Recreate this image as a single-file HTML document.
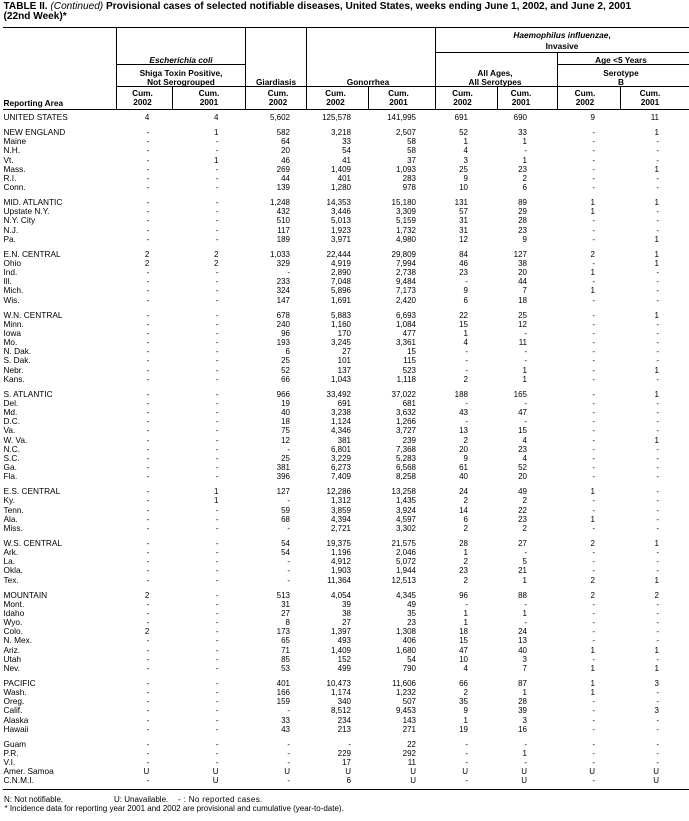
<!DOCTYPE html>
<html><head><meta charset="utf-8">
<style>
html,body{margin:0;padding:0;background:#fff;}
body{width:689px;height:821px;position:relative;overflow:hidden;font-family:"Liberation Sans",Arial,Helvetica,sans-serif;color:#000;}
.t{position:absolute;left:3.5px;top:2.2px;font-size:10.1px;font-weight:bold;line-height:10px;white-space:nowrap;}
.t i{font-weight:normal;}
.l{position:absolute;background:#000;}
.h{position:absolute;width:200px;text-align:center;font-size:8.3px;font-weight:bold;line-height:10px;white-space:nowrap;}
.hl{position:absolute;font-size:8.3px;font-weight:bold;line-height:10px;white-space:nowrap;}
#rows{position:absolute;left:0;top:113.2px;width:689px;}
.r{position:relative;height:9.2px;line-height:9.2px;font-size:8px;white-space:nowrap;}
.g{margin-top:5.7px;}
.r span{position:absolute;top:0;width:60px;text-align:right;}
.r span:nth-child(1){left:3.5px;width:auto;text-align:left;font-size:8.3px;}
.r span:nth-child(2){left:89.3px;}
.r span:nth-child(3){left:158.5px;}
.r span:nth-child(4){left:230px;}
.r span:nth-child(5){left:291px;}
.r span:nth-child(6){left:356px;}
.r span:nth-child(7){left:408px;}
.r span:nth-child(8){left:467px;}
.r span:nth-child(9){left:535px;}
.r span:nth-child(10){left:599px;}
.f{position:absolute;font-size:8px;line-height:9.2px;white-space:nowrap;}
</style></head><body>

<div class="t">TABLE II. <i>(Continued)</i> Provisional cases of selected notifiable diseases, United States, weeks ending June 1, 2002, and June 2, 2001<br>(22nd Week)*</div>

<!-- header rules -->
<div class="l" style="left:3px;top:27px;width:686px;height:1px"></div>
<div class="l" style="left:435px;top:52px;width:254px;height:1px"></div>
<div class="l" style="left:116px;top:64px;width:130px;height:1px"></div>
<div class="l" style="left:557px;top:64px;width:132px;height:1px"></div>
<div class="l" style="left:116px;top:86px;width:573px;height:1px"></div>
<div class="l" style="left:3px;top:109px;width:686px;height:1px"></div>
<div class="l" style="left:116px;top:27px;width:1px;height:83px"></div>
<div class="l" style="left:245px;top:27px;width:1px;height:83px"></div>
<div class="l" style="left:306px;top:27px;width:1px;height:83px"></div>
<div class="l" style="left:435px;top:27px;width:1px;height:83px"></div>
<div class="l" style="left:557px;top:52px;width:1px;height:58px"></div>
<div class="l" style="left:172px;top:86px;width:1px;height:24px"></div>
<div class="l" style="left:368px;top:86px;width:1px;height:24px"></div>
<div class="l" style="left:497px;top:86px;width:1px;height:24px"></div>
<div class="l" style="left:620px;top:86px;width:1px;height:24px"></div>
<!-- bottom rule -->
<div class="l" style="left:3px;top:789px;width:686px;height:1px"></div>

<!-- header text -->
<div class="h" style="left:462px;top:30.1px"><i>Haemophilus influenzae</i>,</div>
<div class="h" style="left:462px;top:41.1px">Invasive</div>
<div class="h" style="left:81px;top:55.1px"><i>Escherichia coli</i></div>
<div class="h" style="left:521px;top:55.1px">Age &lt;5 Years</div>
<div class="h" style="left:81px;top:68.4px">Shiga Toxin Positive,</div>
<div class="h" style="left:81px;top:76.8px">Not Serogrouped</div>
<div class="h" style="left:395px;top:68.4px">All Ages,</div>
<div class="h" style="left:395px;top:76.8px">All Serotypes</div>
<div class="h" style="left:521px;top:68.4px">Serotype</div>
<div class="h" style="left:521px;top:76.8px">B</div>
<div class="h" style="left:176px;top:76.8px">Giardiasis</div>
<div class="h" style="left:268px;top:76.8px">Gonorrhea</div>

<div class="hl" style="left:3.5px;top:97.8px">Reporting Area</div>

<div class="h" style="left:42.5px;top:88.4px">Cum.</div><div class="h" style="left:42.5px;top:97.4px">2002</div>
<div class="h" style="left:109px;top:88.4px">Cum.</div><div class="h" style="left:109px;top:97.4px">2001</div>
<div class="h" style="left:178px;top:88.4px">Cum.</div><div class="h" style="left:178px;top:97.4px">2002</div>
<div class="h" style="left:235.5px;top:88.4px">Cum.</div><div class="h" style="left:235.5px;top:97.4px">2002</div>
<div class="h" style="left:298.5px;top:88.4px">Cum.</div><div class="h" style="left:298.5px;top:97.4px">2001</div>
<div class="h" style="left:362.5px;top:88.4px">Cum.</div><div class="h" style="left:362.5px;top:97.4px">2002</div>
<div class="h" style="left:421px;top:88.4px">Cum.</div><div class="h" style="left:421px;top:97.4px">2001</div>
<div class="h" style="left:485px;top:88.4px">Cum.</div><div class="h" style="left:485px;top:97.4px">2002</div>
<div class="h" style="left:550px;top:88.4px">Cum.</div><div class="h" style="left:550px;top:97.4px">2001</div>

<div id="rows">
<div class="r"><span>UNITED STATES</span><span>4</span><span>4</span><span>5,602</span><span>125,578</span><span>141,995</span><span>691</span><span>690</span><span>9</span><span>11</span></div>

<div class="r g"><span>NEW ENGLAND</span><span>-</span><span>1</span><span>582</span><span>3,218</span><span>2,507</span><span>52</span><span>33</span><span>-</span><span>1</span></div>
<div class="r"><span>Maine</span><span>-</span><span>-</span><span>64</span><span>33</span><span>58</span><span>1</span><span>1</span><span>-</span><span>-</span></div>
<div class="r"><span>N.H.</span><span>-</span><span>-</span><span>20</span><span>54</span><span>58</span><span>4</span><span>-</span><span>-</span><span>-</span></div>
<div class="r"><span>Vt.</span><span>-</span><span>1</span><span>46</span><span>41</span><span>37</span><span>3</span><span>1</span><span>-</span><span>-</span></div>
<div class="r"><span>Mass.</span><span>-</span><span>-</span><span>269</span><span>1,409</span><span>1,093</span><span>25</span><span>23</span><span>-</span><span>1</span></div>
<div class="r"><span>R.I.</span><span>-</span><span>-</span><span>44</span><span>401</span><span>283</span><span>9</span><span>2</span><span>-</span><span>-</span></div>
<div class="r"><span>Conn.</span><span>-</span><span>-</span><span>139</span><span>1,280</span><span>978</span><span>10</span><span>6</span><span>-</span><span>-</span></div>

<div class="r g"><span>MID. ATLANTIC</span><span>-</span><span>-</span><span>1,248</span><span>14,353</span><span>15,180</span><span>131</span><span>89</span><span>1</span><span>1</span></div>
<div class="r"><span>Upstate N.Y.</span><span>-</span><span>-</span><span>432</span><span>3,446</span><span>3,309</span><span>57</span><span>29</span><span>1</span><span>-</span></div>
<div class="r"><span>N.Y. City</span><span>-</span><span>-</span><span>510</span><span>5,013</span><span>5,159</span><span>31</span><span>28</span><span>-</span><span>-</span></div>
<div class="r"><span>N.J.</span><span>-</span><span>-</span><span>117</span><span>1,923</span><span>1,732</span><span>31</span><span>23</span><span>-</span><span>-</span></div>
<div class="r"><span>Pa.</span><span>-</span><span>-</span><span>189</span><span>3,971</span><span>4,980</span><span>12</span><span>9</span><span>-</span><span>1</span></div>

<div class="r g"><span>E.N. CENTRAL</span><span>2</span><span>2</span><span>1,033</span><span>22,444</span><span>29,809</span><span>84</span><span>127</span><span>2</span><span>1</span></div>
<div class="r"><span>Ohio</span><span>2</span><span>2</span><span>329</span><span>4,919</span><span>7,994</span><span>46</span><span>38</span><span>-</span><span>1</span></div>
<div class="r"><span>Ind.</span><span>-</span><span>-</span><span>-</span><span>2,890</span><span>2,738</span><span>23</span><span>20</span><span>1</span><span>-</span></div>
<div class="r"><span>Ill.</span><span>-</span><span>-</span><span>233</span><span>7,048</span><span>9,484</span><span>-</span><span>44</span><span>-</span><span>-</span></div>
<div class="r"><span>Mich.</span><span>-</span><span>-</span><span>324</span><span>5,896</span><span>7,173</span><span>9</span><span>7</span><span>1</span><span>-</span></div>
<div class="r"><span>Wis.</span><span>-</span><span>-</span><span>147</span><span>1,691</span><span>2,420</span><span>6</span><span>18</span><span>-</span><span>-</span></div>

<div class="r g"><span>W.N. CENTRAL</span><span>-</span><span>-</span><span>678</span><span>5,883</span><span>6,693</span><span>22</span><span>25</span><span>-</span><span>1</span></div>
<div class="r"><span>Minn.</span><span>-</span><span>-</span><span>240</span><span>1,160</span><span>1,084</span><span>15</span><span>12</span><span>-</span><span>-</span></div>
<div class="r"><span>Iowa</span><span>-</span><span>-</span><span>96</span><span>170</span><span>477</span><span>1</span><span>-</span><span>-</span><span>-</span></div>
<div class="r"><span>Mo.</span><span>-</span><span>-</span><span>193</span><span>3,245</span><span>3,361</span><span>4</span><span>11</span><span>-</span><span>-</span></div>
<div class="r"><span>N. Dak.</span><span>-</span><span>-</span><span>6</span><span>27</span><span>15</span><span>-</span><span>-</span><span>-</span><span>-</span></div>
<div class="r"><span>S. Dak.</span><span>-</span><span>-</span><span>25</span><span>101</span><span>115</span><span>-</span><span>-</span><span>-</span><span>-</span></div>
<div class="r"><span>Nebr.</span><span>-</span><span>-</span><span>52</span><span>137</span><span>523</span><span>-</span><span>1</span><span>-</span><span>1</span></div>
<div class="r"><span>Kans.</span><span>-</span><span>-</span><span>66</span><span>1,043</span><span>1,118</span><span>2</span><span>1</span><span>-</span><span>-</span></div>

<div class="r g"><span>S. ATLANTIC</span><span>-</span><span>-</span><span>966</span><span>33,492</span><span>37,022</span><span>188</span><span>165</span><span>-</span><span>1</span></div>
<div class="r"><span>Del.</span><span>-</span><span>-</span><span>19</span><span>691</span><span>681</span><span>-</span><span>-</span><span>-</span><span>-</span></div>
<div class="r"><span>Md.</span><span>-</span><span>-</span><span>40</span><span>3,238</span><span>3,632</span><span>43</span><span>47</span><span>-</span><span>-</span></div>
<div class="r"><span>D.C.</span><span>-</span><span>-</span><span>18</span><span>1,124</span><span>1,266</span><span>-</span><span>-</span><span>-</span><span>-</span></div>
<div class="r"><span>Va.</span><span>-</span><span>-</span><span>75</span><span>4,346</span><span>3,727</span><span>13</span><span>15</span><span>-</span><span>-</span></div>
<div class="r"><span>W. Va.</span><span>-</span><span>-</span><span>12</span><span>381</span><span>239</span><span>2</span><span>4</span><span>-</span><span>1</span></div>
<div class="r"><span>N.C.</span><span>-</span><span>-</span><span>-</span><span>6,801</span><span>7,368</span><span>20</span><span>23</span><span>-</span><span>-</span></div>
<div class="r"><span>S.C.</span><span>-</span><span>-</span><span>25</span><span>3,229</span><span>5,283</span><span>9</span><span>4</span><span>-</span><span>-</span></div>
<div class="r"><span>Ga.</span><span>-</span><span>-</span><span>381</span><span>6,273</span><span>6,568</span><span>61</span><span>52</span><span>-</span><span>-</span></div>
<div class="r"><span>Fla.</span><span>-</span><span>-</span><span>396</span><span>7,409</span><span>8,258</span><span>40</span><span>20</span><span>-</span><span>-</span></div>

<div class="r g"><span>E.S. CENTRAL</span><span>-</span><span>1</span><span>127</span><span>12,286</span><span>13,258</span><span>24</span><span>49</span><span>1</span><span>-</span></div>
<div class="r"><span>Ky.</span><span>-</span><span>1</span><span>-</span><span>1,312</span><span>1,435</span><span>2</span><span>2</span><span>-</span><span>-</span></div>
<div class="r"><span>Tenn.</span><span>-</span><span>-</span><span>59</span><span>3,859</span><span>3,924</span><span>14</span><span>22</span><span>-</span><span>-</span></div>
<div class="r"><span>Ala.</span><span>-</span><span>-</span><span>68</span><span>4,394</span><span>4,597</span><span>6</span><span>23</span><span>1</span><span>-</span></div>
<div class="r"><span>Miss.</span><span>-</span><span>-</span><span>-</span><span>2,721</span><span>3,302</span><span>2</span><span>2</span><span>-</span><span>-</span></div>

<div class="r g"><span>W.S. CENTRAL</span><span>-</span><span>-</span><span>54</span><span>19,375</span><span>21,575</span><span>28</span><span>27</span><span>2</span><span>1</span></div>
<div class="r"><span>Ark.</span><span>-</span><span>-</span><span>54</span><span>1,196</span><span>2,046</span><span>1</span><span>-</span><span>-</span><span>-</span></div>
<div class="r"><span>La.</span><span>-</span><span>-</span><span>-</span><span>4,912</span><span>5,072</span><span>2</span><span>5</span><span>-</span><span>-</span></div>
<div class="r"><span>Okla.</span><span>-</span><span>-</span><span>-</span><span>1,903</span><span>1,944</span><span>23</span><span>21</span><span>-</span><span>-</span></div>
<div class="r"><span>Tex.</span><span>-</span><span>-</span><span>-</span><span>11,364</span><span>12,513</span><span>2</span><span>1</span><span>2</span><span>1</span></div>

<div class="r g"><span>MOUNTAIN</span><span>2</span><span>-</span><span>513</span><span>4,054</span><span>4,345</span><span>96</span><span>88</span><span>2</span><span>2</span></div>
<div class="r"><span>Mont.</span><span>-</span><span>-</span><span>31</span><span>39</span><span>49</span><span>-</span><span>-</span><span>-</span><span>-</span></div>
<div class="r"><span>Idaho</span><span>-</span><span>-</span><span>27</span><span>38</span><span>35</span><span>1</span><span>1</span><span>-</span><span>-</span></div>
<div class="r"><span>Wyo.</span><span>-</span><span>-</span><span>8</span><span>27</span><span>23</span><span>1</span><span>-</span><span>-</span><span>-</span></div>
<div class="r"><span>Colo.</span><span>2</span><span>-</span><span>173</span><span>1,397</span><span>1,308</span><span>18</span><span>24</span><span>-</span><span>-</span></div>
<div class="r"><span>N. Mex.</span><span>-</span><span>-</span><span>65</span><span>493</span><span>406</span><span>15</span><span>13</span><span>-</span><span>-</span></div>
<div class="r"><span>Ariz.</span><span>-</span><span>-</span><span>71</span><span>1,409</span><span>1,680</span><span>47</span><span>40</span><span>1</span><span>1</span></div>
<div class="r"><span>Utah</span><span>-</span><span>-</span><span>85</span><span>152</span><span>54</span><span>10</span><span>3</span><span>-</span><span>-</span></div>
<div class="r"><span>Nev.</span><span>-</span><span>-</span><span>53</span><span>499</span><span>790</span><span>4</span><span>7</span><span>1</span><span>1</span></div>

<div class="r g"><span>PACIFIC</span><span>-</span><span>-</span><span>401</span><span>10,473</span><span>11,606</span><span>66</span><span>87</span><span>1</span><span>3</span></div>
<div class="r"><span>Wash.</span><span>-</span><span>-</span><span>166</span><span>1,174</span><span>1,232</span><span>2</span><span>1</span><span>1</span><span>-</span></div>
<div class="r"><span>Oreg.</span><span>-</span><span>-</span><span>159</span><span>340</span><span>507</span><span>35</span><span>28</span><span>-</span><span>-</span></div>
<div class="r"><span>Calif.</span><span>-</span><span>-</span><span>-</span><span>8,512</span><span>9,453</span><span>9</span><span>39</span><span>-</span><span>3</span></div>
<div class="r"><span>Alaska</span><span>-</span><span>-</span><span>33</span><span>234</span><span>143</span><span>1</span><span>3</span><span>-</span><span>-</span></div>
<div class="r"><span>Hawaii</span><span>-</span><span>-</span><span>43</span><span>213</span><span>271</span><span>19</span><span>16</span><span>-</span><span>-</span></div>

<div class="r g"><span>Guam</span><span>-</span><span>-</span><span>-</span><span>-</span><span>22</span><span>-</span><span>-</span><span>-</span><span>-</span></div>
<div class="r"><span>P.R.</span><span>-</span><span>-</span><span>-</span><span>229</span><span>292</span><span>-</span><span>1</span><span>-</span><span>-</span></div>
<div class="r"><span>V.I.</span><span>-</span><span>-</span><span>-</span><span>17</span><span>11</span><span>-</span><span>-</span><span>-</span><span>-</span></div>
<div class="r"><span>Amer. Samoa</span><span>U</span><span>U</span><span>U</span><span>U</span><span>U</span><span>U</span><span>U</span><span>U</span><span>U</span></div>
<div class="r"><span>C.N.M.I.</span><span>-</span><span>U</span><span>-</span><span>6</span><span>U</span><span>-</span><span>U</span><span>-</span><span>U</span></div>
</div>

<div class="f" style="left:4px;top:795px">N: Not notifiable.</div>
<div class="f" style="left:114px;top:795px">U: Unavailable.</div>
<div class="f" style="left:178px;top:795px;letter-spacing:0.35px">- : No reported cases.</div>
<div class="f" style="left:4.5px;top:803.8px">* Incidence data for reporting year 2001 and 2002 are provisional and cumulative (year-to-date).</div>

</body></html>
